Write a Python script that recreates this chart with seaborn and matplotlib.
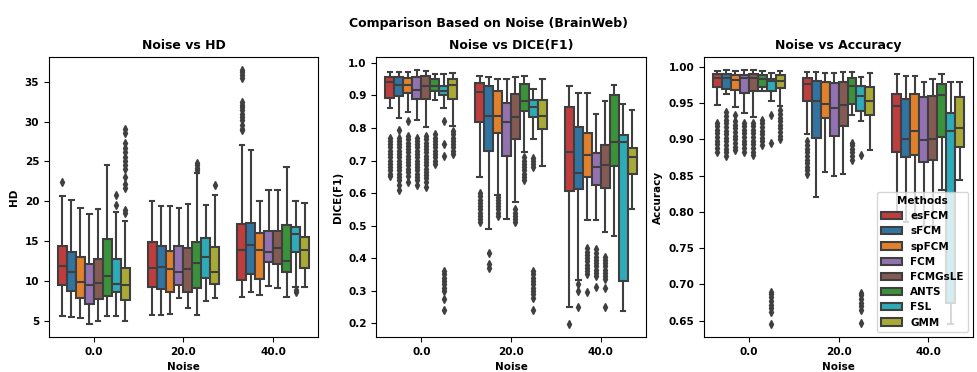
import matplotlib
matplotlib.use("Agg")
import matplotlib.pyplot as plt
import pandas as pd
import seaborn as sns

plt.rcParams["font.family"] = ["DejaVu Sans"]
plt.rcParams["font.weight"] = "bold"
plt.rcParams["axes.labelweight"] = "bold"
plt.rcParams["axes.titleweight"] = "bold"

noise_levels = ["0.0", "20.0", "40.0"]
methods = ["esFCM", "sFCM", "spFCM", "FCM", "FCMGsLE", "ANTS", "FSL", "GMM"]
colors = ["#d62728", "#1f77b4", "#ff7f0e", "#9467bd", "#8c564b", "#2ca02c", "#17becf", "#bcbd22"]

# ---- HD box statistics (rows: noise level, cols: method) ----
hd_low = [[5.7, 5.5, 5.4, 4.6, 5.0, 5.6, 5.7, 5.0],
          [5.8, 5.8, 5.9, 7.9, 6.7, 5.8, 7.5, 7.9],
          [8.0, 8.6, 8.3, 9.4, 9.2, 8.0, 9.3, 9.3]]
hd_q1 = [[9.5, 8.8, 7.9, 7.2, 7.8, 8.2, 8.6, 7.7],
         [9.25, 9.0, 8.7, 9.5, 8.6, 9.1, 10.4, 9.7],
         [10.2, 10.9, 10.3, 12.4, 12.1, 11.1, 13.7, 11.6]]
hd_med = [[11.9, 11.2, 9.95, 9.5, 9.8, 10.7, 9.7, 9.5],
          [11.7, 11.8, 11.5, 11.1, 11.5, 12.3, 13.0, 11.2],
          [13.9, 14.5, 13.9, 13.6, 14.2, 12.5, 15.9, 13.9]]
hd_q3 = [[14.4, 13.7, 13.0, 12.1, 12.8, 15.3, 12.8, 11.7],
         [14.9, 14.45, 13.8, 14.4, 14.2, 14.9, 15.4, 14.3],
         [17.2, 17.3, 16.0, 16.3, 16.3, 17.0, 16.8, 15.5]]
hd_high = [[20.7, 20.2, 19.2, 18.4, 19.1, 24.5, 18.7, 17.5],
           [20.1, 19.4, 19.4, 19.2, 19.7, 23.5, 19.5, 20.8],
           [27.0, 26.4, 20.1, 21.4, 21.4, 24.3, 20.1, 19.8]]
hd_outliers = {
    ("0.0", "esFCM"): [22.4],
    ("0.0", "FSL"): [19.5, 20.8],
    ("0.0", "GMM"): [18.5, 18.95, 21.7, 22.2, 23.0, 24.05, 24.5, 25.0, 25.6, 26.2, 26.7, 27.3, 28.6, 29.05],
    ("20.0", "ANTS"): [23.9, 24.2, 24.5, 24.8],
    ("20.0", "GMM"): [22.0],
    ("40.0", "esFCM"): [28.9, 29.1, 29.6, 30.2, 30.6, 31.0, 31.4, 31.8, 32.1, 32.4, 35.4, 35.8, 36.2, 36.5],
    ("40.0", "FSL"): [8.7, 8.9],
}

# ---- DICE(F1) box statistics ----
dice_low = [[0.86, 0.832, 0.85, 0.824, 0.804, 0.885, 0.86, 0.806],
            [0.649, 0.49, 0.595, 0.521, 0.572, 0.725, 0.767, 0.684],
            [0.251, 0.333, 0.518, 0.518, 0.479, 0.469, 0.239, 0.552]]
dice_q1 = [[0.892, 0.897, 0.908, 0.889, 0.889, 0.913, 0.90, 0.89],
           [0.817, 0.728, 0.785, 0.715, 0.767, 0.851, 0.833, 0.797],
           [0.605, 0.613, 0.649, 0.624, 0.617, 0.684, 0.329, 0.66]]
dice_med = [[0.94, 0.931, 0.931, 0.917, 0.928, 0.928, 0.913, 0.931],
            [0.91, 0.838, 0.838, 0.817, 0.833, 0.882, 0.864, 0.838],
            [0.725, 0.662, 0.716, 0.68, 0.685, 0.756, 0.756, 0.711]]
dice_q3 = [[0.957, 0.957, 0.953, 0.957, 0.96, 0.951, 0.928, 0.951],
           [0.938, 0.928, 0.913, 0.877, 0.905, 0.936, 0.887, 0.887],
           [0.863, 0.802, 0.785, 0.723, 0.748, 0.90, 0.777, 0.738]]
dice_high = [[0.973, 0.973, 0.973, 0.979, 0.976, 0.966, 0.966, 0.968],
             [0.959, 0.956, 0.949, 0.949, 0.956, 0.959, 0.921, 0.949],
             [0.928, 0.908, 0.908, 0.844, 0.884, 0.931, 0.874, 0.854]]
dice_outliers = {
    ("0.0", "esFCM"): [0.651, 0.66, 0.67, 0.68, 0.69, 0.70, 0.71, 0.72, 0.73, 0.74, 0.75, 0.76, 0.77],
    ("0.0", "sFCM"): [0.61, 0.625, 0.64, 0.65, 0.66, 0.67, 0.68, 0.69, 0.70, 0.71, 0.72, 0.73, 0.74, 0.75, 0.76, 0.77, 0.795],
    ("0.0", "spFCM"): [0.635, 0.652, 0.665, 0.675, 0.685, 0.695, 0.705, 0.715, 0.725, 0.735, 0.745, 0.755, 0.765, 0.775, 0.82],
    ("0.0", "FCM"): [0.625, 0.64, 0.65, 0.66, 0.67, 0.68, 0.69, 0.70, 0.71, 0.72, 0.73, 0.74, 0.75, 0.76, 0.77],
    ("0.0", "FCMGsLE"): [0.62, 0.635, 0.645, 0.655, 0.665, 0.675, 0.685, 0.695, 0.705, 0.715, 0.725, 0.735, 0.745, 0.755, 0.765, 0.775],
    ("0.0", "ANTS"): [0.69, 0.70, 0.71, 0.72, 0.73, 0.74, 0.75, 0.76, 0.77, 0.78],
    ("0.0", "FSL"): [0.24, 0.275, 0.30, 0.31, 0.32, 0.33, 0.34, 0.35, 0.36, 0.715, 0.75, 0.82],
    ("0.0", "GMM"): [0.72, 0.73, 0.74, 0.75, 0.76, 0.77, 0.78, 0.79],
    ("20.0", "esFCM"): [0.51, 0.52, 0.53, 0.54, 0.55, 0.56, 0.57, 0.58, 0.59, 0.60],
    ("20.0", "sFCM"): [0.37, 0.383, 0.415],
    ("20.0", "spFCM"): [0.53, 0.54, 0.55, 0.56, 0.57, 0.58, 0.588],
    ("20.0", "FCMGsLE"): [0.51, 0.52, 0.53, 0.54, 0.55],
    ("20.0", "ANTS"): [0.64, 0.65, 0.66, 0.67, 0.68, 0.69, 0.70, 0.71],
    ("20.0", "FSL"): [0.24, 0.277, 0.29, 0.30, 0.31, 0.32, 0.33, 0.34, 0.35, 0.36, 0.68, 0.69, 0.70, 0.708],
    ("40.0", "esFCM"): [0.197],
    ("40.0", "sFCM"): [0.25, 0.30, 0.32],
    ("40.0", "spFCM"): [0.297, 0.35, 0.36, 0.37, 0.38, 0.39, 0.40, 0.41, 0.42, 0.43],
    ("40.0", "FCM"): [0.311, 0.345, 0.355, 0.365, 0.375, 0.385, 0.395, 0.405, 0.415, 0.428],
    ("40.0", "FCMGsLE"): [0.25, 0.31, 0.335, 0.345, 0.355, 0.365, 0.375, 0.385, 0.395, 0.403],
}

# ---- Accuracy box statistics ----
acc_low = [[0.947, 0.963, 0.945, 0.936, 0.931, 0.966, 0.953, 0.946],
           [0.907, 0.82, 0.855, 0.85, 0.852, 0.934, 0.925, 0.885],
           [0.79, 0.786, 0.79, 0.78, 0.78, 0.83, 0.646, 0.844]]
acc_q1 = [[0.972, 0.970, 0.968, 0.964, 0.966, 0.972, 0.966, 0.971],
          [0.953, 0.902, 0.929, 0.904, 0.919, 0.949, 0.939, 0.934],
          [0.883, 0.875, 0.879, 0.869, 0.872, 0.903, 0.674, 0.89]]
acc_med = [[0.984, 0.984, 0.982, 0.985, 0.985, 0.983, 0.980, 0.981],
           [0.976, 0.953, 0.949, 0.943, 0.947, 0.974, 0.959, 0.953],
           [0.946, 0.901, 0.912, 0.899, 0.901, 0.961, 0.912, 0.915]]
acc_q3 = [[0.990, 0.990, 0.988, 0.988, 0.990, 0.989, 0.983, 0.989],
          [0.984, 0.981, 0.979, 0.978, 0.979, 0.984, 0.974, 0.972],
          [0.9625, 0.956, 0.9625, 0.958, 0.959, 0.976, 0.936, 0.958]]
acc_high = [[0.9945, 0.996, 0.9945, 0.996, 0.996, 0.9945, 0.992, 0.9945],
            [0.993, 0.993, 0.992, 0.992, 0.993, 0.993, 0.986, 0.992],
            [0.99, 0.987, 0.987, 0.9785, 0.983, 0.99, 0.9785, 0.9785]]
acc_outliers = {
    ("0.0", "esFCM"): [0.883, 0.888, 0.893, 0.898, 0.903, 0.908, 0.913, 0.918, 0.923],
    ("0.0", "sFCM"): [0.877, 0.882, 0.887, 0.892, 0.897, 0.902, 0.907, 0.912, 0.917, 0.922, 0.927, 0.932, 0.938],
    ("0.0", "spFCM"): [0.885, 0.89, 0.895, 0.90, 0.905, 0.91, 0.915, 0.92, 0.925, 0.934],
    ("0.0", "FCM"): [0.883, 0.888, 0.893, 0.898, 0.903, 0.908, 0.913, 0.918, 0.923],
    ("0.0", "FCMGsLE"): [0.878, 0.883, 0.888, 0.893, 0.898, 0.903, 0.908, 0.913, 0.918, 0.923],
    ("0.0", "ANTS"): [0.892, 0.897, 0.902, 0.907, 0.912, 0.917, 0.922, 0.927],
    ("0.0", "FSL"): [0.645, 0.662, 0.667, 0.672, 0.677, 0.682, 0.687, 0.69, 0.895, 0.934],
    ("0.0", "GMM"): [0.90, 0.905, 0.91, 0.915, 0.92, 0.925, 0.93, 0.935, 0.94],
    ("20.0", "esFCM"): [0.852, 0.857, 0.862, 0.867, 0.872, 0.877, 0.882, 0.887, 0.892, 0.897],
    ("20.0", "ANTS"): [0.872, 0.877, 0.882, 0.887, 0.892, 0.895],
    ("20.0", "FSL"): [0.647, 0.665, 0.67, 0.675, 0.68, 0.685, 0.688, 0.879],
}


def box_sample(lo, q1, med, q3, hi, out):
    """Observations whose box-plot statistics equal the given values."""
    below = sorted(v for v in out if v < q1)
    above = sorted(v for v in out if v > q3)
    m = 2 * (len(below) + len(above)) + 12
    return below + [lo] + [q1] * m + [med] * m + [q3] * m + [hi] + above


def build_frame(low, q1, med, q3, high, outliers):
    rows = []
    for i, nz in enumerate(noise_levels):
        for j, mt in enumerate(methods):
            vals = box_sample(low[i][j], q1[i][j], med[i][j], q3[i][j], high[i][j],
                              outliers.get((nz, mt), []))
            rows.extend((nz, mt, v) for v in vals)
    return pd.DataFrame(rows, columns=["Noise", "Method", "value"])


frames = [
    (build_frame(hd_low, hd_q1, hd_med, hd_q3, hd_high, hd_outliers), "HD", "Noise vs HD"),
    (build_frame(dice_low, dice_q1, dice_med, dice_q3, dice_high, dice_outliers), "DICE(F1)", "Noise vs DICE(F1)"),
    (build_frame(acc_low, acc_q1, acc_med, acc_q3, acc_high, acc_outliers), "Accuracy", "Noise vs Accuracy"),
]

fig, axes = plt.subplots(1, 3, figsize=(9.78, 3.72), dpi=100)
line_col = "#3f3f3f"
for k, (ax, (df, ylab, title)) in enumerate(zip(axes, frames)):
    sns.boxplot(data=df, x="Noise", y="value", hue="Method", order=noise_levels,
                hue_order=methods, palette=colors, saturation=0.75, ax=ax,
                linewidth=1.5, linecolor=line_col, fliersize=4,
                flierprops=dict(marker="d", markerfacecolor=line_col,
                                markeredgecolor=line_col),
                legend=(k == 2))
    ax.set_title(title, fontsize=9, fontweight="bold")
    ax.set_xlabel("Noise", fontsize=7.5, fontweight="bold")
    ax.set_ylabel(ylab, fontsize=7.5, fontweight="bold")
    ax.tick_params(labelsize=7.5)

ax = axes[2]
handles, labels = ax.get_legend_handles_labels()
ax.legend(handles, labels, title="Methods", loc="lower right", fontsize=7.5,
          title_fontproperties={"weight": "bold", "size": 7.5})

fig.suptitle("Comparison Based on Noise (BrainWeb)", fontsize=9, fontweight="bold", y=0.955)
fig.subplots_adjust(left=0.050, right=0.995, top=0.847, bottom=0.094, wspace=0.217)
fig.savefig("out.png", dpi=100)
